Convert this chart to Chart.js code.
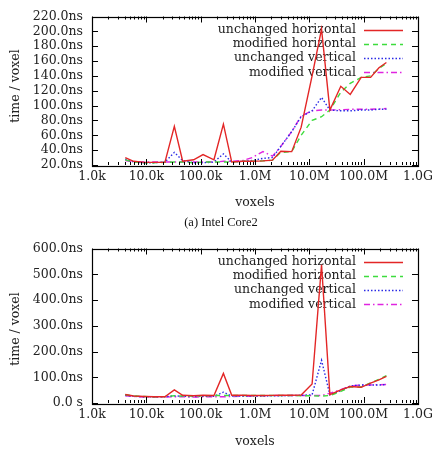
<!DOCTYPE html>
<html><head><meta charset="utf-8">
<script src="https://cdn.jsdelivr.net/npm/chart.js@4/dist/chart.umd.min.js"></script>
<style>
body{margin:0;width:440px;height:451px;background:#fff;position:relative;overflow:hidden;}
.c{position:absolute;left:0;}
.t{position:absolute;font-family:"DejaVu Serif",serif;font-size:12.5px;color:#222;white-space:nowrap;transform:translate(-50%,-50%);}
.cap{position:absolute;font-family:"Liberation Serif",serif;font-size:12.5px;color:#111;white-space:nowrap;transform:translate(-50%,-50%);}
</style></head><body>
<div class="c" style="top:0"><canvas id="c1" width="440" height="215"></canvas></div>
<div class="c" style="top:232px"><canvas id="c2" width="440" height="219"></canvas></div>
<div class="t" style="left:14px;top:86px;transform:translate(-50%,-50%) rotate(-90deg)">time / voxel</div>
<div class="t" style="left:255px;top:201px">voxels</div>
<div class="cap" style="left:221px;top:222px">(a) Intel Core2</div>
<div class="t" style="left:14px;top:329px;transform:translate(-50%,-50%) rotate(-90deg)">time / voxel</div>
<div class="t" style="left:255px;top:440px">voxels</div>
<script>
// voxel counts (x positions)
const voxels = [4096, 5832, 9261, 13824, 21952, 32768, 46656, 74088, 110592, 175616,
  262144, 373248, 592704, 884736, 1404928, 2097152, 2985984, 4741632, 7077888, 11239424,
  16777216, 23887872, 37933056, 56623104, 89915392, 134217728, 191102976, 262144000];

const seriesNames = ["unchanged horizontal", "modified horizontal", "unchanged vertical", "modified vertical"];
const xTickValues = [1e3, 1e4, 1e5, 1e6, 1e7, 1e8, 1e9];
const xTickLabels = ["1.0k", "10.0k", "100.0k", "1.0M", "10.0M", "100.0M", "1.0G"];

// (a) top chart, ns per voxel
const aUnchangedH = [30, 25, 23.5, 23.5, 23.5, 72, 25, 27, 34, 27, 75, 24, 25, 25, 25.5, 26.5, 38.5, 38, 71, 140, 203, 94, 126, 115, 138, 138, 151, 158];
const aModifiedH  = [27, 24, 23, 23, 23.5, 24, 24, 23, 24, 24, 24, 24, 25, 25, 25.5, 26.5, 37, 38, 60, 80, 85, 94, 118, 130, 138, 140, 150, 157];
const aUnchangedV = [28, 24, 23, 23, 24, 37, 26, 23, 23, 24, 35, 24, 25, 26, 29, 30, 45, 65, 85, 93, 111, 94, 93, 93, 94, 94, 95, 95];
const aModifiedV  = [26, 24, 24, 24, 24, 24, 24, 24, 24, 24, 25, 25, 26, 30, 38, 32, 45, 65, 86, 93, 94, 94, 94.5, 95, 95, 95, 95.5, 96];

// second chart, ns per voxel
const bUnchangedH = [33, 27, 25, 24, 24, 51, 30, 28, 30, 29, 115, 30, 30, 29, 29, 29.5, 30, 30, 31, 74, 537, 32, 51, 64, 61, 77, 90, 103];
const bModifiedH  = [32, 27, 25, 24, 25, 28, 27, 27, 28, 29, 29, 29, 29, 29, 29, 29, 29, 29, 28, 28, 27, 29, 45, 62, 62, 78, 92, 106];
const bUnchangedV = [30, 26, 24, 24, 24, 28, 26, 25, 26, 26, 42, 27, 27, 27, 27, 28, 28, 29, 30, 32, 166, 32, 48, 66, 70, 70, 70, 72];
const bModifiedV  = [28, 25, 23, 23, 23, 24, 24, 23, 24, 24, 24, 25, 26, 27, 28, 29, 29, 29, 29, 29, 29, 38, 52, 66, 70, 70, 71, 72];

const aTicks = {min: 20, max: 220, step: 20};
const bTicks = {min: 0, max: 600, step: 100};

const styles = [
  {color: '#e32626', dash: []},
  {color: '#3ddc3d', dash: [5, 4]},
  {color: '#2a2ae6', dash: [1.5, 2]},
  {color: '#e024e0', dash: [6, 3, 1.5, 3]}
];

const FONT = {family: '"DejaVu Serif", serif', size: 12.5};

const legendPlugin = {
  id: 'gpLegend',
  beforeDatasetsDraw(chart) {
    const {ctx, chartArea: a} = chart;
    ctx.save();
    ctx.font = '12.5px "DejaVu Serif", serif';
    ctx.textAlign = 'right';
    ctx.textBaseline = 'middle';
    chart.data.datasets.forEach((ds, i) => {
      const yy = a.top + 13 + 14.3 * i;
      ctx.fillStyle = '#222';
      ctx.fillText(ds.label, 356, yy);
      ctx.strokeStyle = ds.borderColor;
      ctx.lineWidth = 1.5;
      ctx.setLineDash(ds.borderDash || []);
      ctx.beginPath();
      ctx.moveTo(364, Math.round(yy) + 0.5);
      ctx.lineTo(403, Math.round(yy) + 0.5);
      ctx.stroke();
    });
    ctx.restore();
  },
  afterDatasetsDraw(chart) {
    const {ctx, chartArea: a, scales: {x, y}} = chart;
    ctx.save();
    ctx.strokeStyle = '#000';
    ctx.lineWidth = 1;
    ctx.setLineDash([]);
    ctx.beginPath();
    for (let e = 3; e <= 9; e++) {
      for (let k = 1; k <= 9; k++) {
        const v = k * Math.pow(10, e);
        if (v > 1e9) break;
        const px = Math.round(x.getPixelForValue(v)) + 0.5;
        const L = k === 1 ? 6 : 3;
        ctx.moveTo(px, a.bottom); ctx.lineTo(px, a.bottom - L);
        ctx.moveTo(px, a.top); ctx.lineTo(px, a.top + L);
      }
    }
    y.ticks.forEach(t => {
      const py = Math.round(y.getPixelForValue(t.value)) + 0.5;
      ctx.moveTo(a.left, py); ctx.lineTo(a.left + 6, py);
      ctx.moveTo(a.right, py); ctx.lineTo(a.right - 6, py);
    });
    ctx.stroke();
    ctx.lineWidth = 1.2;
    ctx.strokeRect(Math.round(a.left) + 0.5, Math.round(a.top) + 0.5, Math.round(a.right - a.left), Math.round(a.bottom - a.top));
    ctx.restore();
  }
};

function makeChart(id, series, tk, fmt, padTop, canvasH, bottomPx) {
  const datasets = series.map((arr, i) => ({
    label: seriesNames[i],
    data: voxels.map((v, j) => ({x: v, y: arr[j]})),
    borderColor: styles[i].color,
    borderDash: styles[i].dash,
    borderWidth: 1.4,
    pointRadius: 0,
    fill: false,
    tension: 0
  }));
  return new Chart(document.getElementById(id), {
    type: 'line',
    data: {datasets},
    plugins: [legendPlugin],
    options: {
      responsive: false,
      animation: false,
      devicePixelRatio: 1,
      layout: {padding: {left: 0, right: 22, top: padTop, bottom: 0}},
      plugins: {legend: {display: false}, tooltip: {enabled: false}},
      scales: {
        x: {
          type: 'logarithmic', min: 1e3, max: 1e9,
          grid: {display: false, drawTicks: false},
          border: {display: false},
          afterBuildTicks: s => { s.ticks = xTickValues.map(v => ({value: v})); },
          afterFit: s => { s.height = canvasH - bottomPx; },
          ticks: {
            font: FONT, color: '#222', padding: 4, autoSkip: false, maxRotation: 0,
            callback: (v) => { const i = xTickValues.indexOf(v); return i >= 0 ? xTickLabels[i] : ''; }
          }
        },
        y: {
          type: 'linear', min: tk.min, max: tk.max,
          grid: {display: false, drawTicks: false},
          border: {display: false},
          afterFit: s => { s.width = 92; },
          ticks: {font: FONT, color: '#222', padding: 9, stepSize: tk.step, autoSkip: false, callback: fmt}
        }
      }
    }
  });
}

makeChart('c1', [aUnchangedH, aModifiedH, aUnchangedV, aModifiedV], aTicks,
  v => v.toFixed(1) + 'ns', 8, 215, 165);
makeChart('c2', [bUnchangedH, bModifiedH, bUnchangedV, bModifiedV], bTicks,
  v => v === 0 ? '0.0 s' : v.toFixed(1) + 'ns', 14, 219, 171);
</script>
</body></html>
